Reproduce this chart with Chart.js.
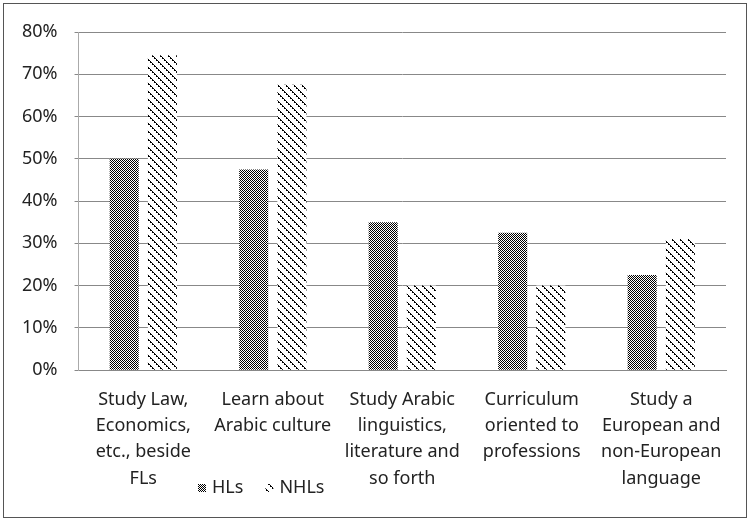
<!DOCTYPE html>
<html lang="en">
<head>
<meta charset="UTF-8">
<title>HLs vs NHLs</title>
<script src="https://cdn.jsdelivr.net/npm/chart.js"></script>
<style>
    body { margin: 0; padding: 0; background: #fff; }
    .frame {
        position: absolute;
        left: 3px; top: 3px;
        width: 744px; height: 515px;
        border: 1px solid #555;
        box-sizing: border-box;
    }
    #chart { position: absolute; left: 0; top: 0; }
</style>
</head>
<body>
<div class="frame"></div>
<canvas id="chart" width="751" height="522"></canvas>
<script>
    const categories = [
        ['Study Law,', 'Economics,', 'etc., beside', 'FLs'],
        ['Learn about', 'Arabic culture'],
        ['Study Arabic', 'linguistics,', 'literature and', 'so forth'],
        ['Curriculum', 'oriented to', 'professions'],
        ['Study a', 'European and', 'non-European', 'language']
    ];
    const hls = [50, 47.5, 35, 32.5, 22.5];
    const nhls = [74.5, 67.5, 20, 20, 31];
    const yTicks = [0, 10, 20, 30, 40, 50, 60, 70, 80];

    const fontFamily = 'Noto Sans';

    function checkPattern() {
        const c = document.createElement('canvas');
        c.width = 2; c.height = 2;
        const g = c.getContext('2d');
        g.fillStyle = '#fff';
        g.fillRect(0, 0, 2, 2);
        g.fillStyle = '#000';
        g.fillRect(0, 0, 1, 1);
        g.fillRect(1, 1, 1, 1);
        return g.createPattern(c, 'repeat');
    }

    function diagPattern() {
        const n = 8;
        const c = document.createElement('canvas');
        c.width = n; c.height = n;
        const g = c.getContext('2d');
        g.fillStyle = '#fff';
        g.fillRect(0, 0, n, n);
        g.fillStyle = '#000';
        for (let i = 0; i < n; i++) {
            if (i % 2 === 0) g.fillRect(i, i, 1, 1);
            g.fillRect((i + 1) % n, i, 1, 1);
        }
        return g.createPattern(c, 'repeat');
    }

    const fills = [checkPattern(), diagPattern()];

    // legend sits inside the label band, like the original
    const legendPlugin = {
        id: 'bottomLegend',
        afterDraw(chart) {
            const ctx = chart.ctx;
            ctx.save();
            ctx.font = '18px "' + fontFamily + '"';
            ctx.textBaseline = 'middle';
            let x = 198;
            const y = 488;
            chart.data.datasets.forEach((ds, i) => {
                ctx.fillStyle = fills[i];
                ctx.fillRect(x, y - 4, 8, 8);
                ctx.fillStyle = '#222';
                ctx.fillText(ds.label, x + 14, y);
                x += 14 + ctx.measureText(ds.label).width + 22;
            });
            ctx.restore();
        }
    };

    new Chart(document.getElementById('chart'), {
        type: 'bar',
        data: {
            labels: categories,
            datasets: [
                { label: 'HLs', data: hls, backgroundColor: fills[0] },
                { label: 'NHLs', data: nhls, backgroundColor: fills[1] }
            ]
        },
        options: {
            responsive: false,
            animation: false,
            layout: { padding: { left: 5, right: 25, top: 32, bottom: 22 } },
            datasets: { bar: { categoryPercentage: 0.59, barPercentage: 0.76 } },
            plugins: { legend: { display: false }, tooltip: { enabled: false } },
            scales: {
                x: {
                    grid: { display: false },
                    border: { color: '#888' },
                    ticks: {
                        color: '#222',
                        font: { family: fontFamily, size: 18, lineHeight: 1.47 },
                        maxRotation: 0,
                        autoSkip: false,
                        padding: 8
                    }
                },
                y: {
                    min: 0, max: 80,
                    afterBuildTicks: axis => { axis.ticks = yTicks.map(v => ({ value: v })); },
                    grid: { color: '#888', tickLength: 4 },
                    border: { color: '#aaa' },
                    ticks: {
                        color: '#222',
                        font: { family: fontFamily, size: 18 },
                        padding: 17,
                        callback: v => v + '%'
                    }
                }
            }
        },
        plugins: [legendPlugin]
    });
</script>
</body>
</html>
